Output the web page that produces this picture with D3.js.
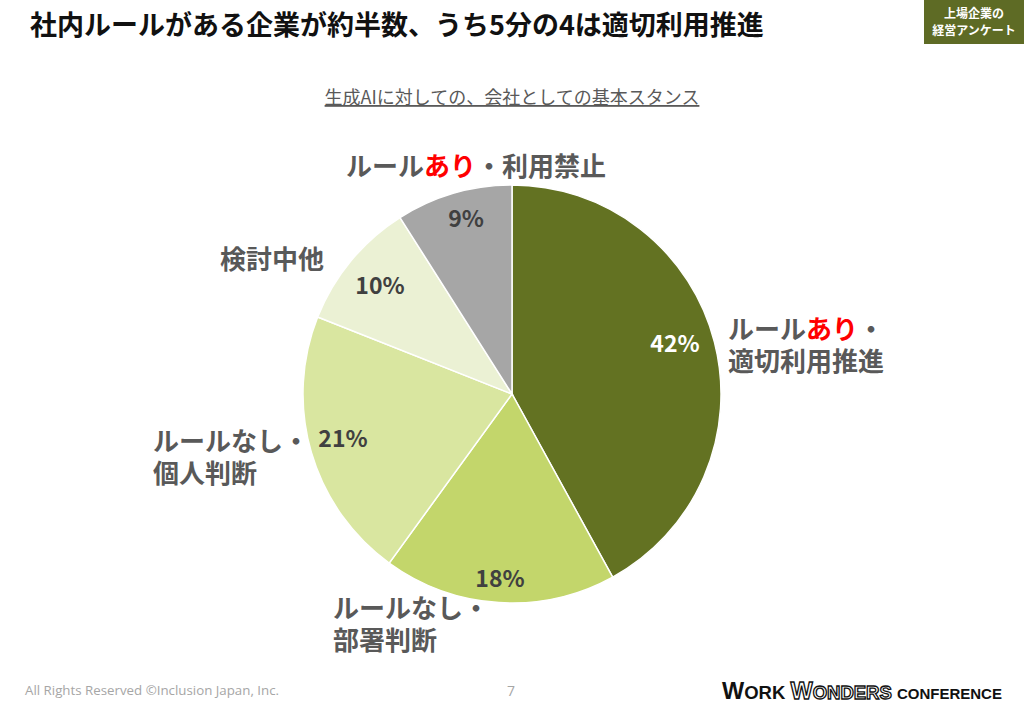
<!DOCTYPE html>
<html><head><meta charset="utf-8">
<script src="https://cdn.jsdelivr.net/npm/d3@7"></script>
<style>body{margin:0;background:#fff;}svg{display:block;}</style>
</head><body>
<svg id="c" width="1024" height="707"></svg>
<script>
const categories = ["ルールあり・適切利用推進","ルールなし・部署判断","ルールなし・個人判断","検討中他","ルールあり・利用禁止"];
const values = [42, 18, 21, 10, 9];
const valueLabels = ["42%","18%","21%","10%","9%"];
const colors = ["#637222","#c3d66b","#d9e6a0","#ebf1d4","#a6a6a6"];
// label lines: segments [text, red?]
const labelLines = [
  [[["ルール",0],["あり",1],["・",0]],[["適切利用推進",0]]],
  [[["ルールなし・",0]],[["部署判断",0]]],
  [[["ルールなし・",0]],[["個人判断",0]]],
  [[["検討中他",0]]],
  [[["ルール",0],["あり",1],["・利用禁止",0]]]
];
const labelPos = [[728,339],[333,618],[153,451],[220,269],[346,176]];
const pctPos = [[675,342],[500,577],[343,437],[380,284],[466,217]];

const svg = d3.select("#c");
const font = "'Noto Sans CJK JP','Noto Sans',sans-serif";
const labelFont = "'Liberation Sans','Noto Sans CJK JP',sans-serif";

// title
svg.append("text").attr("x",30).attr("y",35).attr("font-family",font).attr("font-weight",700)
  .attr("font-size",27).attr("fill","#111").text("社内ルールがある企業が約半数、うち5分の4は適切利用推進");

// badge
svg.append("rect").attr("x",924).attr("y",0).attr("width",100).attr("height",44).attr("fill","#5e6b25");
svg.append("text").attr("x",974).attr("y",18).attr("text-anchor","middle").attr("font-family",font)
  .attr("font-weight",700).attr("font-size",12).attr("fill","#fff").text("上場企業の");
svg.append("text").attr("x",974).attr("y",35).attr("text-anchor","middle").attr("font-family",font)
  .attr("font-weight",700).attr("font-size",12).attr("fill","#fff").text("経営アンケート");

// subtitle
svg.append("text").attr("x",512).attr("y",104).attr("text-anchor","middle").attr("font-family",font)
  .attr("font-size",18).attr("fill","#595959").attr("text-decoration","underline").text("生成AIに対しての、会社としての基本スタンス");

// pie
const cx = 512, cy = 394, r = 209;
const pie = d3.pie().sort(null).value(d=>d)(values);
const arc = d3.arc().innerRadius(0).outerRadius(r);
const g = svg.append("g").attr("transform",`translate(${cx},${cy})`);
g.selectAll("path").data(pie).join("path").attr("d",arc)
  .attr("fill",(d,i)=>colors[i]).attr("stroke","#fff").attr("stroke-width",1.5);

// percentages
valueLabels.forEach((t,i)=>{
  svg.append("text").attr("x",pctPos[i][0]).attr("y",pctPos[i][1]).attr("text-anchor","middle")
    .attr("dominant-baseline","central").attr("font-family",font).attr("font-weight",700).attr("font-size",23)
    .attr("fill", i===0 ? "#ffffff" : "#404040").text(t);
});

// category labels
labelLines.forEach((lines,i)=>{
  lines.forEach((segs,j)=>{
    const t = svg.append("text").attr("x",labelPos[i][0]).attr("y",labelPos[i][1]+j*32)
      .attr("font-family",labelFont).attr("font-weight",700).attr("font-size",26);
    segs.forEach(s=>t.append("tspan").attr("fill", s[1] ? "#ff0000" : "#595959").text(s[0]));
  });
});

// footer
svg.append("text").attr("x",25).attr("y",695).attr("font-family","'Open Sans',sans-serif").attr("font-size",13.3)
  .attr("fill","#a6a6a6").text("All Rights Reserved ©Inclusion Japan, Inc.");
svg.append("text").attr("x",511).attr("y",696).attr("text-anchor","middle").attr("font-family","'Open Sans',sans-serif")
  .attr("font-size",14).attr("fill","#a6a6a6").text("7");
const ft = svg.append("text").attr("x",722).attr("y",699).attr("font-family","'Liberation Sans',Arial,sans-serif")
  .attr("font-weight",700).attr("fill","#111");
ft.append("tspan").attr("font-size",23.5).text("W");
ft.append("tspan").attr("font-size",18.5).text("ORK ");
ft.append("tspan").attr("font-size",23.5).attr("fill","#fff").attr("stroke","#111").attr("stroke-width",1.3).text("W");
ft.append("tspan").attr("font-size",18.5).attr("fill","#fff").attr("stroke","#111").attr("stroke-width",1.3).text("ONDERS ");
ft.append("tspan").attr("font-size",15).text("CONFERENCE");
</script>
</body></html>
